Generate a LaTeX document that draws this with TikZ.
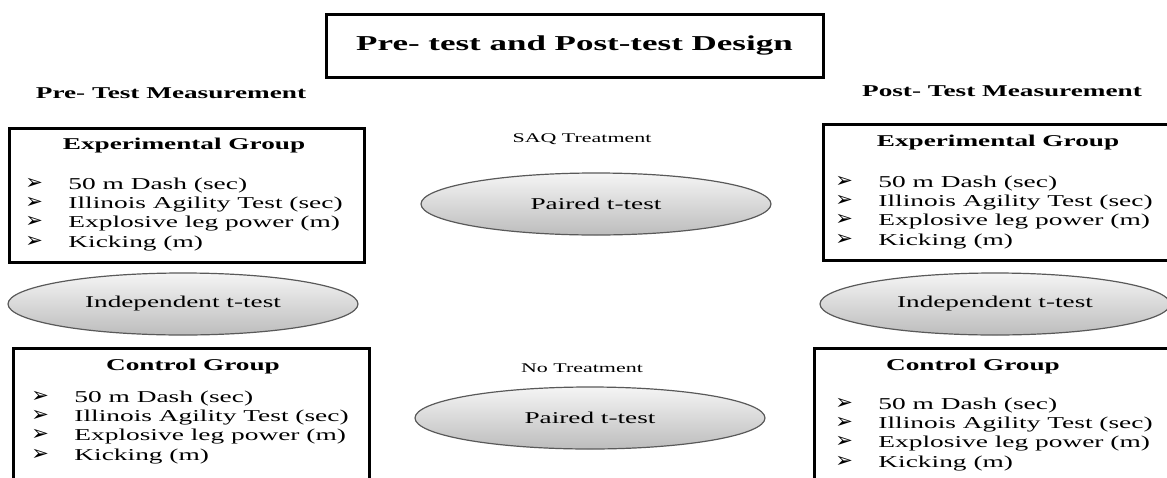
\documentclass[tikz,border=0pt]{standalone}
\usepackage{fontspec}
\setmainfont{Liberation Serif}[FakeStretch=1.65]
\newfontfamily\bulletfont{DejaVu Sans}
\usetikzlibrary{positioning, shapes.geometric}
\newcommand{\itm}[1]{\makebox[21.5pt][l]{\bulletfont\fontsize{10.5}{8}\selectfont ➢}#1}
\tikzset{
  every picture/.style={x=0.5pt, y=0.5pt},
  titlebox/.style={draw, line width=1.5pt, minimum width=248.5pt, minimum height=31.5pt, font=\bfseries\fontsize{10.6}{12}\selectfont},
  group/.style={draw, line width=1.5pt, anchor=north west, minimum width=177.5pt},
  phase/.style={font=\bfseries\fontsize{8.25}{10}\selectfont},
  heading/.style={font=\bfseries\fontsize{8.25}{10}\selectfont},
  items/.style={anchor=base west, align=left, inner sep=0pt, font=\fontsize{8.3}{9.6}\selectfont},
  test/.style={ellipse, draw=black!65, line width=0.6pt, top color=black!4, bottom color=black!26, minimum width=175pt, minimum height=31pt, inner sep=0pt, font=\fontsize{8.25}{10}\selectfont},
  note/.style={font=\fontsize{6.65}{8}\selectfont},
}

\begin{document}
\begin{tikzpicture}
  \useasboundingbox (0,0) rectangle (1167,-477);
  \clip (0,0) rectangle (1167,-477);
  \node[titlebox] (design) at (574.5,-45.5) {Pre- test and Post-test Design};
  \node[phase] (pre) at (171,-93) {Pre- Test Measurement};
  \node[phase] (post) at (1002,-91) {Post- Test Measurement};

  \node[group, minimum height=67pt] (preexp) at (8,-127) {};
  \node[heading] (preexph) at (184,-146) {Experimental Group};
  \node[items] (preexpl) at (25,-247) {\itm{50 m Dash (sec)}\\ \itm{Illinois Agility Test (sec)}\\ \itm{Explosive leg power (m)}\\ \itm{Kicking (m)}};

  \node[group, minimum height=68pt] (postexp) at (822,-123) {};
  \node[heading] (postexph) at (998,-143) {Experimental Group};
  \node[items] (postexpl) at (835,-245) {\itm{50 m Dash (sec)}\\ \itm{Illinois Agility Test (sec)}\\ \itm{Explosive leg power (m)}\\ \itm{Kicking (m)}};

  \node[test] (indpre) at (183,-304) {Independent t-test};
  \node[test] (indpost) at (995,-304) {Independent t-test};

  \node[group, minimum height=80pt, minimum width=178pt] (prectl) at (12,-347) {};
  \node[heading] (prectlh) at (193,-367) {Control Group};
  \node[items] (prectll) at (31,-460) {\itm{50 m Dash (sec)}\\ \itm{Illinois Agility Test (sec)}\\ \itm{Explosive leg power (m)}\\ \itm{Kicking (m)}};

  \node[group, minimum height=80pt, minimum width=178pt] (postctl) at (813,-347) {};
  \node[heading] (postctlh) at (973,-367) {Control Group};
  \node[items] (postctll) at (835,-467) {\itm{50 m Dash (sec)}\\ \itm{Illinois Agility Test (sec)}\\ \itm{Explosive leg power (m)}\\ \itm{Kicking (m)}};

  \node[note] (saq) at (582,-139) {SAQ Treatment};
  \node[test] (pairsaq) at (596,-204) {Paired t-test};
  \node[note] (none) at (582,-368) {No Treatment};
  \node[test] (pairnone) at (590,-418) {Paired t-test};
\end{tikzpicture}
\end{document}
